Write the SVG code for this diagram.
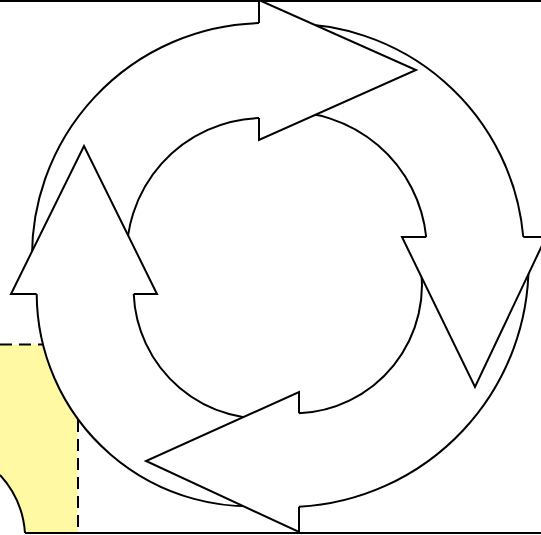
<svg xmlns="http://www.w3.org/2000/svg" width="541" height="535" viewBox="0 0 541 535">
  <style>
    .band { fill: #ffffff; stroke: none; }
    .edge { fill: none; stroke: #000000; stroke-width: 2; }
    .head { fill: #ffffff; stroke: #000000; stroke-width: 2; stroke-linejoin: miter; }
    .dash { fill: none; stroke: #000000; stroke-width: 2; stroke-dasharray: 12 7; }
    .rule { fill: none; stroke: #000000; stroke-width: 2; }
  </style>
  <rect x="0" y="0" width="541" height="535" fill="#ffffff"/>

  <g id="yellow-region">
    <path d="M 0,344.5 L 43,344.5 A 213.3 213.3 0 0 0 78,419.1 L 78,533 L 25,533 A 95.5 95.5 0 0 0 0,475 Z" fill="#fff9a3" stroke="none"/>
    <path class="dash" d="M 0,344.5 L 43,344.5"/>
    <path class="dash" d="M 78,420 L 78,533"/>
    <path class="edge" d="M 25,533 A 95.5 95.5 0 0 0 0,475"/>
  </g>

  <g id="frame-lines">
    <line class="rule" x1="0" y1="1" x2="541" y2="1"/>
    <line class="rule" x1="25" y1="533" x2="541" y2="533"/>
  </g>

  <g id="arrow-top-band">
    <path class="band" d="M 32.2,265.5 A 233 233 0 0 1 259,23.1 L 259,118 A 136.8 136.8 0 0 0 127.2,265.5 Z"/>
    <path class="edge" d="M 32.2,265.5 A 233 233 0 0 1 259,23.1 M 259,118 A 136.8 136.8 0 0 0 127.2,265.5"/>
  </g>
  <g id="arrow-right-band">
    <path class="band" d="M 280,24.1 A 233.7 233.7 0 0 1 523.3,237 L 426.2,237 A 139.7 139.7 0 0 0 280,112 Z"/>
    <path class="edge" d="M 280,24.1 A 233.7 233.7 0 0 1 523.3,237 M 426.2,237 A 139.7 139.7 0 0 0 280,112"/>
  </g>
  <g id="arrow-bottom-band">
    <path class="band" d="M 528.6,262 A 242.7 242.7 0 0 1 299,506.8 L 299,413.3 A 128.5 128.5 0 0 0 419.9,262 Z"/>
    <path class="edge" d="M 528.6,262 A 242.7 242.7 0 0 1 299,506.8 M 299,413.3 A 128.5 128.5 0 0 0 419.9,262"/>
  </g>
  <g id="arrow-left-band">
    <path class="band" d="M 280,504.2 A 213.3 213.3 0 0 1 36.7,294 L 133.7,294 A 130.3 130.3 0 0 0 280,417.7 Z"/>
    <path class="edge" d="M 280,504.2 A 213.3 213.3 0 0 1 36.7,294 M 133.7,294 A 130.3 130.3 0 0 0 280,417.7"/>
  </g>

  <g id="arrow-top-head">
    <path class="head" d="M 259,23.1 L 259,0 L 416,70 L 259,140 L 259,118"/>
  </g>
  <g id="arrow-right-head">
    <path class="head" d="M 523.3,237 L 546,237 L 475,387 L 402,237 L 426.2,237"/>
  </g>
  <g id="arrow-bottom-head">
    <path class="head" d="M 299,506.8 L 299,532 L 146,461 L 299,392 L 299,413.3"/>
  </g>
  <g id="arrow-left-head">
    <path class="head" d="M 36.7,294 L 11,294 L 84,146 L 157,294 L 133.7,294"/>
  </g>
</svg>
